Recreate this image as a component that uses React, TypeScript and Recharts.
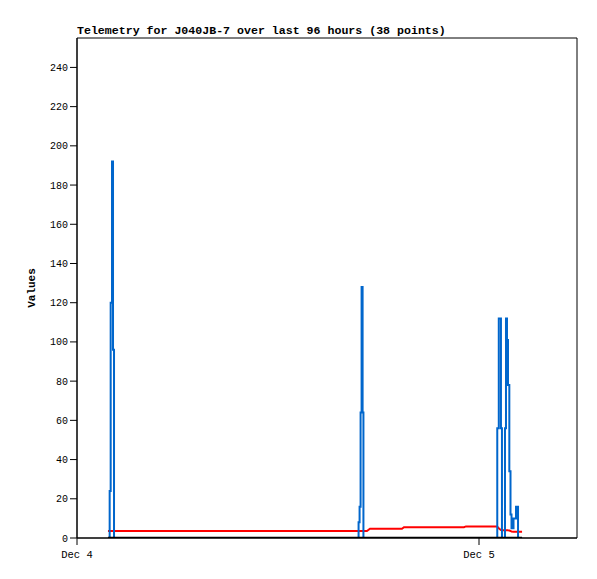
import { Line, LineChart, ReferenceArea, XAxis, YAxis } from "recharts";

// hours since Dec 4 00:00
const hours = [
  1.85, 1.95, 2.01, 2.09, 2.15, 2.21,
  16.75, 16.81, 16.87, 16.93, 16.99, 17.05, 17.1,
  17.31, 17.49, 19.4, 19.52, 23.1, 23.22,
  25.0, 25.09, 25.18, 25.25, 25.31, 25.37, 25.49, 25.55, 25.61, 25.67, 25.73, 25.81, 25.88, 25.94, 26.06, 26.21, 26.33,
  26.57,
];
const blueVals = [
  0, 24, 120, 192, 96, 0,
  0, 8, 16, 64, 128, 64, 0,
  0, 0, 0, 0, 0, 0,
  0, 56, 112, 112, 56, 0, 0, 56, 112, 101, 78, 34, 12, 5, 10, 16, 0,
  0,
];
const redVals = [
  3.6, 3.6, 3.6, 3.6, 3.6, 3.6,
  3.6, 3.6, 3.6, 3.6, 3.6, 3.6, 3.6,
  3.6, 4.7, 4.7, 5.5, 5.5, 5.9,
  5.9, 5.8, 5.0, 4.5, 4.1, 4.0, 4.0, 4.0, 4.0, 4.0, 3.9, 3.8, 3.6, 3.3, 3.2, 3.2, 3.2,
  3.2,
];
const blackVals = [
  0, 0, 0, 0, 0, 0,
  0, 0, 0, 0, 0, 0, 0,
  0, 0, 0, 0, 0, 0,
  0, 0, 0, 0, 0, 0, 0, 0, 0, 0, 0, 0, 0, 0, 0, 0, 0,
  0,
];
const xTicks = [0, 24];
const xTickLabels = ["Dec 4", "Dec 5"];
const yTicks = [0, 20, 40, 60, 80, 100, 120, 140, 160, 180, 200, 220, 240];
const X_MAX = 29.85;
const Y_MAX = 255;

const data = hours.map((h, i) => ({
  h,
  blue: blueVals[i],
  red: redVals[i],
  black: blackVals[i],
}));

const MONO = "'Liberation Mono', 'DejaVu Sans Mono', monospace";

export default function App() {
  return (
    <div style={{ position: "absolute", left: 0, top: 0, width: 597, height: 579, background: "#fff" }}>
      <div
        style={{
          position: "absolute",
          left: 77,
          top: 24,
          fontFamily: MONO,
          fontSize: 11.6,
          fontWeight: "bold",
          color: "#000",
          whiteSpace: "nowrap",
        }}
      >
        Telemetry for J040JB-7 over last 96 hours (38 points)
      </div>
      <LineChart width={597} height={579} data={data} margin={{ top: 38, right: 20, bottom: 11, left: 0 }}>
        <XAxis
          dataKey="h"
          type="number"
          domain={[0, X_MAX]}
          ticks={xTicks}
          tickFormatter={(v: number) => xTickLabels[xTicks.indexOf(v)]}
          tickSize={7}
          tickMargin={6}
          height={30}
          stroke="#000"
          tick={{ fontSize: 10.5, fill: "#000", fontFamily: MONO }}
          allowDataOverflow
        />
        <YAxis
          type="number"
          domain={[0, Y_MAX]}
          ticks={yTicks}
          tickSize={7}
          width={77}
          stroke="#000"
          tick={{ fontSize: 10, fill: "#000", fontFamily: MONO }}
          allowDataOverflow
          label={{
            value: "Values",
            angle: -90,
            position: "insideLeft",
            offset: 31,
            style: { fontSize: 11, fontWeight: "bold", fill: "#000", fontFamily: MONO, textAnchor: "middle" },
          }}
        />
        <ReferenceArea x1={0} x2={X_MAX} y1={0} y2={Y_MAX} fill="none" stroke="#000" strokeWidth={1} />
        <Line type="linear" dataKey="red" stroke="#ff0000" strokeWidth={2} dot={false} isAnimationActive={false} />
        <Line type="stepAfter" dataKey="blue" stroke="#0066cc" strokeWidth={2} dot={false} isAnimationActive={false} />
        <Line type="linear" dataKey="black" stroke="#000" strokeWidth={2.5} dot={false} isAnimationActive={false} />
      </LineChart>
    </div>
  );
}
